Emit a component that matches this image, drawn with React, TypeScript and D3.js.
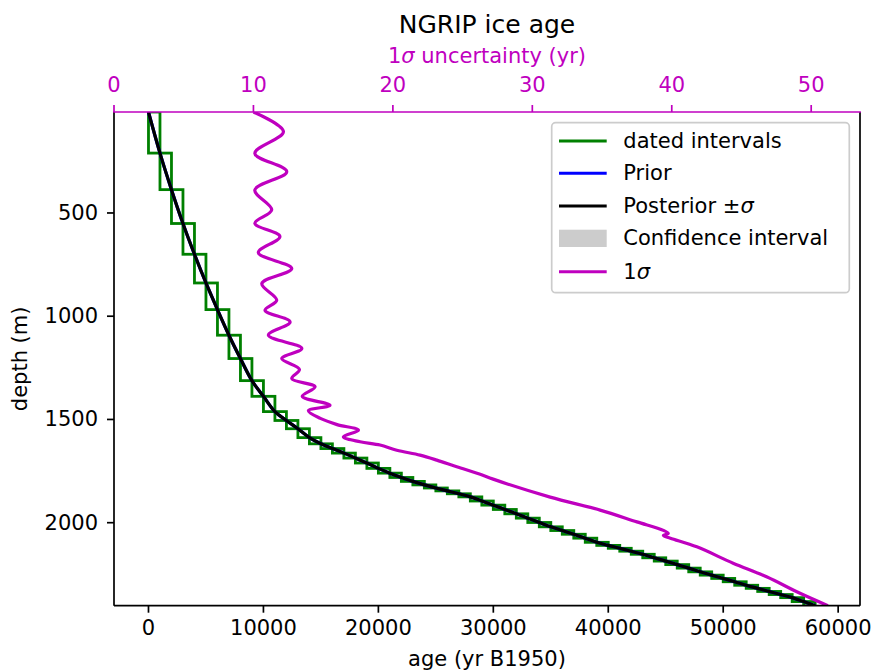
import React from "react";
import * as d3 from "d3";

// dated interval boundaries (age in yr B1950, depth in m)
const intervalAges = [
  0, 1000, 2000, 3000, 4000, 5000, 6000, 7000, 8000, 9000, 10000, 11000, 12000, 13000, 14000,
  15000, 16000, 17000, 18000, 19000, 20000, 21000, 22000, 23000, 24000, 25000, 26000, 27000,
  28000, 29000, 30000, 31000, 32000, 33000, 34000, 35000, 36000, 37000, 38000, 39000, 40000,
  41000, 42000, 43000, 44000, 45000, 46000, 47000, 48000, 49000, 50000, 51000, 52000, 53000,
  54000, 55000, 56000, 57000, 58000,
];
const intervalDepths = [
  11, 210, 387, 551, 700, 839, 968, 1092, 1205, 1312, 1388, 1462, 1505, 1545, 1588,
  1618, 1641, 1663, 1687, 1711, 1737, 1760, 1781, 1800, 1817, 1832, 1846, 1860,
  1875, 1895, 1915, 1936, 1957, 1978, 1999, 2020, 2038, 2056, 2075, 2095, 2110,
  2124, 2138, 2153, 2170, 2186, 2203, 2220, 2238, 2254, 2270, 2286, 2303, 2318,
  2333, 2348, 2363, 2382, 2402,
];

// 1 sigma uncertainty (yr) vs depth (m)
const sigmaDepths = [
  11, 106, 211, 300, 389, 485, 550, 614, 692, 769, 842, 922, 971, 1028, 1092, 1156, 1205,
  1258, 1302, 1342, 1388, 1431, 1458, 1495, 1525, 1552, 1584, 1608, 1624, 1649, 1673, 1697,
  1729, 1765, 1789, 1876, 1939, 1996, 2037, 2052, 2062, 2075, 2117, 2196, 2262, 2342, 2402,
];
const sigmaValues = [
  10.0, 12.15, 10.1, 12.39, 10.1, 11.31, 10.1, 11.9, 10.35, 12.75, 10.6, 11.67, 10.83, 12.63,
  11.07, 13.47, 12.03, 13.3, 12.75, 14.42, 13.5, 15.49, 13.94, 14.8, 16.0, 17.53, 16.45, 17.65,
  19.08, 20.28, 21.95, 23.15, 24.58, 26.26, 27.19, 31.28, 34.86, 37.5, 39.4, 39.75, 39.4,
  39.9, 41.8, 44.4, 46.8, 49.2, 51.2,
];

const ageTicks = [0, 10000, 20000, 30000, 40000, 50000, 60000];
const depthTicks = [500, 1000, 1500, 2000];
const sigmaTicks = [0, 10, 20, 30, 40, 50];

const legendItems = [
  { label: "dated intervals", kind: "line", color: "#008000" },
  { label: "Prior", kind: "line", color: "#0000ff" },
  { label: "Posterior ±", sigma: true, kind: "line", color: "#000000" },
  { label: "Confidence interval", kind: "patch", color: "#cccccc" },
  { label: "1", sigma: true, kind: "line", color: "#bf00bf" },
];

const FONT = "DejaVu Sans";
const MAGENTA = "#bf00bf";

export default function App() {
  const W = 873, H = 672;
  const L = 114, R = 860, T = 112, B = 605.7;

  const x = d3.scaleLinear().domain([-3000, 61900]).range([L, R]);
  const xTop = d3.scaleLinear().domain([0, 53.5]).range([L, R]);
  const y = d3.scaleLinear().domain([11, 2402]).range([T, B]);

  const pts = intervalAges.map((a, i) => [a, intervalDepths[i]] as [number, number]);
  const line = d3
    .line<[number, number]>()
    .x((p) => x(p[0]))
    .y((p) => y(p[1]))
    .curve(d3.curveCatmullRom.alpha(0.5));

  const sigmaAt = d3.scaleLinear().domain(sigmaDepths).range(sigmaValues);
  const ci = d3
    .area<[number, number]>()
    .y((p) => y(p[1]))
    .x0((p) => x(p[0] - sigmaAt(p[1])))
    .x1((p) => x(p[0] + sigmaAt(p[1])))
    .curve(d3.curveCatmullRom.alpha(0.5));

  const sigPts = sigmaDepths.map((d, i) => [sigmaValues[i], d] as [number, number]);
  const sigLine = d3
    .line<[number, number]>()
    .x((p) => xTop(p[0]))
    .y((p) => y(p[1]))
    .curve(d3.curveCatmullRom.alpha(0.5));

  const rects = intervalAges.slice(0, -1).map((a, i) => ({
    x0: x(a),
    x1: x(intervalAges[i + 1]),
    y0: y(intervalDepths[i]),
    y1: y(intervalDepths[i + 1]),
  }));

  const tickLen = 7;
  const lx0 = 559, lx1 = 606.7, ltx = 623.3;
  const rowY = [141, 173.3, 206, 238.3, 271.7];

  return (
    <div style={{ position: "absolute", left: 0, top: 0 }}>
      <svg width={W} height={H} style={{ display: "block" }} fontFamily={FONT}>
        <rect x={0} y={0} width={W} height={H} fill="#ffffff" />
        <defs>
          <clipPath id="plot">
            <rect x={L} y={T} width={R - L} height={B - T} />
          </clipPath>
        </defs>

        <g clipPath="url(#plot)">
          {rects.map((r, i) => (
            <rect
              key={i}
              x={r.x0}
              y={r.y0}
              width={r.x1 - r.x0}
              height={r.y1 - r.y0}
              fill="none"
              stroke="#008000"
              strokeWidth={2.8}
            />
          ))}
          <path d={ci(pts) || ""} fill="#cccccc" />
          <path d={line(pts) || ""} fill="none" stroke="#0000ff" strokeWidth={3.2} />
          <path d={line(pts) || ""} fill="none" stroke="#000000" strokeWidth={3.2} />
          <path d={sigLine(sigPts) || ""} fill="none" stroke={MAGENTA} strokeWidth={3.2} />
        </g>

        {/* spines */}
        <line x1={L} y1={T} x2={L} y2={B} stroke="#000" strokeWidth={1.7} />
        <line x1={R} y1={T} x2={R} y2={B} stroke="#000" strokeWidth={1.7} />
        <line x1={L} y1={B} x2={R} y2={B} stroke="#000" strokeWidth={1.7} />
        <line x1={L - 0.85} y1={T} x2={R + 0.85} y2={T} stroke={MAGENTA} strokeWidth={1.7} />

        {/* bottom axis */}
        {ageTicks.map((t) => (
          <g key={"a" + t}>
            <line x1={x(t)} x2={x(t)} y1={B} y2={B + tickLen} stroke="#000" strokeWidth={1.7} />
            <text x={x(t)} y={635} textAnchor="middle" fontSize={21} fill="#000">
              {t}
            </text>
          </g>
        ))}
        <text x={(L + R) / 2} y={666} textAnchor="middle" fontSize={21} fill="#000">
          age (yr B1950)
        </text>

        {/* left axis */}
        {depthTicks.map((t) => (
          <g key={"d" + t}>
            <line x1={L - tickLen} x2={L} y1={y(t)} y2={y(t)} stroke="#000" strokeWidth={1.7} />
            <text x={98} y={y(t)} textAnchor="end" dominantBaseline="central" fontSize={21} fill="#000">
              {t}
            </text>
          </g>
        ))}
        <text
          transform={`translate(27,${(T + B) / 2}) rotate(-90)`}
          textAnchor="middle"
          fontSize={21}
          fill="#000"
        >
          depth (m)
        </text>

        {/* top axis */}
        {sigmaTicks.map((t) => (
          <g key={"s" + t}>
            <line x1={xTop(t)} x2={xTop(t)} y1={T - tickLen} y2={T} stroke={MAGENTA} strokeWidth={1.7} />
            <text x={xTop(t)} y={92} textAnchor="middle" fontSize={21} fill={MAGENTA}>
              {t}
            </text>
          </g>
        ))}
        <text x={(L + R) / 2} y={63} textAnchor="middle" fontSize={21} fill={MAGENTA}>
          1<tspan fontStyle="italic">σ</tspan> uncertainty (yr)
        </text>
        <text x={(L + R) / 2} y={33} textAnchor="middle" fontSize={25} fill="#000">
          NGRIP ice age
        </text>

        {/* legend */}
        <rect
          x={551.7}
          y={122.7}
          width={849.3 - 551.7}
          height={292.7 - 122.7}
          rx={4}
          fill="#ffffff"
          fillOpacity={0.8}
          stroke="#cccccc"
          strokeWidth={1.7}
        />
        {legendItems.map((it, i) => (
          <g key={it.label + i}>
            {it.kind === "line" ? (
              <line x1={lx0} x2={lx1} y1={rowY[i]} y2={rowY[i]} stroke={it.color} strokeWidth={3} />
            ) : (
              <rect x={lx0} y={rowY[i] - 8.6} width={lx1 - lx0} height={17.3} fill={it.color} />
            )}
            <text x={ltx} y={rowY[i]} dominantBaseline="central" fontSize={21} fill="#000">
              {it.label}
              {it.sigma ? <tspan fontStyle="italic">σ</tspan> : null}
            </text>
          </g>
        ))}
      </svg>
    </div>
  );
}
